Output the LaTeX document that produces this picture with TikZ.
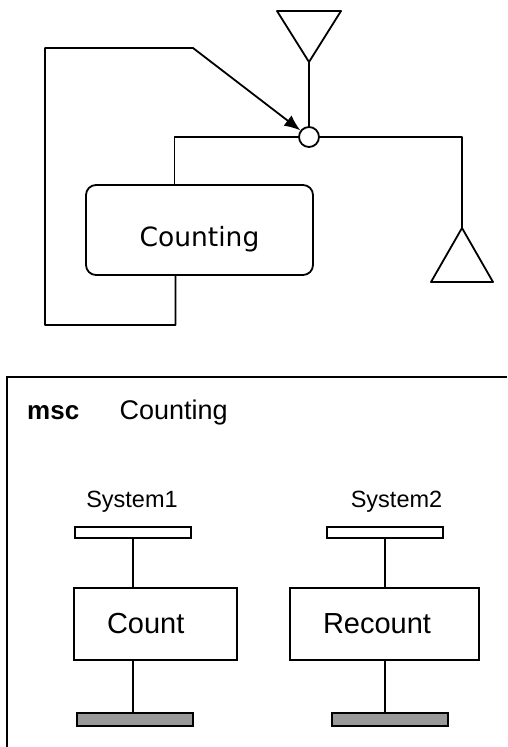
\documentclass[tikz,border=0pt]{standalone}
\usepackage{fontspec}
\setmainfont{Liberation Sans}
\newfontfamily\dejavu{DejaVu Sans}
\usetikzlibrary{arrows.meta, positioning}
\definecolor{stopgray}{HTML}{999999}
\tikzset{wire/.style={line width=1.8pt,line join=round},flow/.style={wire,-{Latex[length=16pt,width=13pt]}},procbox/.style={rectangle,draw,line width=1.8pt,rounded corners=10pt,minimum width=227pt,minimum height=90pt,inner sep=0pt},junction/.style={circle,draw,fill=white,line width=1.8pt,minimum size=20pt,inner sep=0pt},headbar/.style={rectangle,draw,line width=1.6pt,minimum width=116pt,minimum height=11pt,inner sep=0pt},stopbar/.style={headbar,fill=stopgray,minimum height=13pt},instbox/.style={rectangle,draw,line width=1.8pt,minimum height=72pt,inner xsep=33pt,inner ysep=0pt,text width=#1,align=left,font=\fontsize{29}{34}\selectfont},sysname/.style={inner sep=0pt,anchor=base,font=\fontsize{23.5}{28}\selectfont}}

\begin{document}
\begin{tikzpicture}[x=1pt,y=-1pt]
\useasboundingbox (0,0) rectangle (507,747);
% process with its two antennas
\node[procbox] (counting) at (199.5,230) {};
\node[inner sep=0pt,font=\dejavu\fontsize{26.5}{32}\selectfont] (proclabel) at ([yshift=-9pt]counting.center) {Counting};
\node[junction] (junc) at (309,137) {};
\coordinate (ant1) at (309,62);
\coordinate (ant2) at (462,228);
\draw[wire] (ant1) -- ++(-32,-51) -- ++(64,0) -- cycle;
\draw[wire] (ant2) -- ++(-31,54) -- ++(62,0) -- cycle;
\draw[wire] (ant1) -- (junc);
\draw[wire] (junc.west) -| ([xshift=-25pt]counting.north);
\draw[wire] (junc.east) -| (ant2);
\draw[flow] ([xshift=-24pt]counting.south) |- (45,325) |- (193,48) -- (junc);
% msc frame
\draw[line width=2pt] (507,377) -- (7,377) -- (7,747);
\node[inner sep=0pt,anchor=base west,font=\bfseries\fontsize{26}{31}\selectfont] (msc) at (27,419) {msc};
\node[right=40pt of msc.base east,anchor=base west,inner sep=0pt,font=\fontsize{27}{32}\selectfont] (title) {Counting};
% instances
\node[headbar] (hd1) at (133,532.5) {};
\node[headbar] (hd2) at (385,532.5) {};
\node[sysname] (sys1) at (132,507) {System1};
\node[sysname] (sys2) at (396.5,507) {System2};
\node[instbox=97pt] (count) at (155.5,624) {Count};
\node[instbox=123pt] (recount) at (384.5,624) {Recount};
\node[stopbar] (end1) at (135,719.5) {};
\node[stopbar] (end2) at (390,719.5) {};
\draw[wire] (hd1) -- (hd1 |- count.north);
\draw[wire] (hd1 |- count.south) -- (hd1 |- end1.north);
\draw[wire] (hd2) -- (hd2 |- recount.north);
\draw[wire] (hd2 |- recount.south) -- (hd2 |- end2.north);
\end{tikzpicture}
\end{document}
